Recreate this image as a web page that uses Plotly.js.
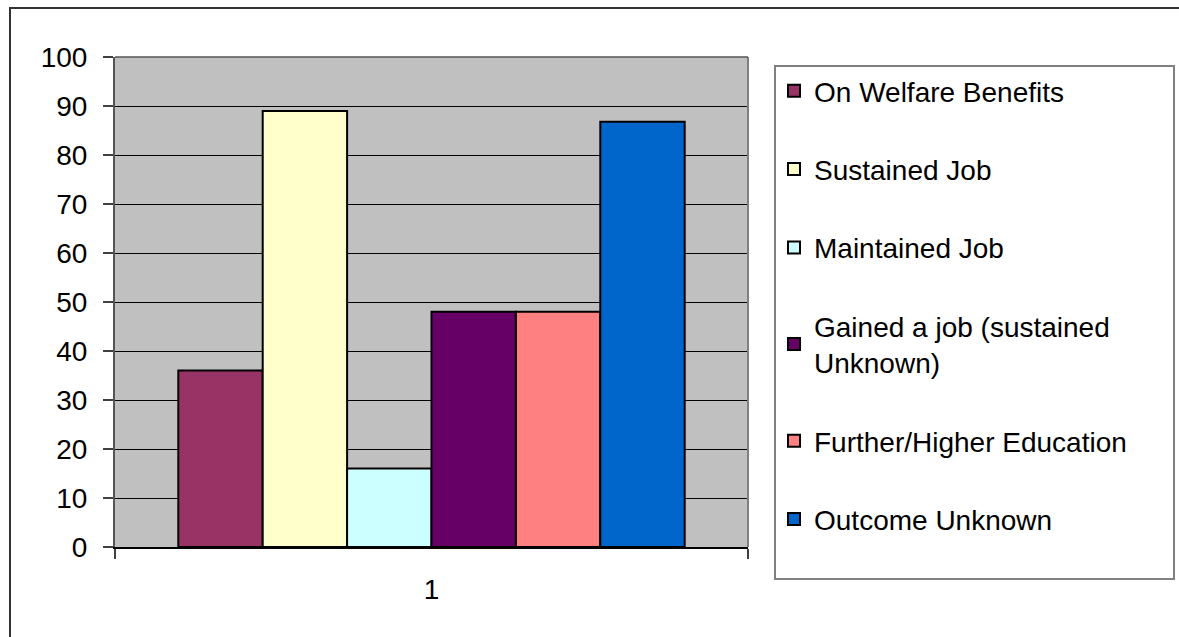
<!DOCTYPE html>
<html>
<head>
<meta charset="utf-8">
<script src="https://cdn.plot.ly/plotly-3.0.1.min.js"></script>
<style>html,body{margin:0;padding:0;background:#fff;}#chart{width:1179px;height:637px;}</style>
</head>
<body>
<div id="chart"></div>
<script>
const categories = ['1'];
const seriesNames = ['On Welfare Benefits', 'Sustained Job', 'Maintained Job', 'Gained a job (sustained<br>Unknown)', 'Further/Higher Education', 'Outcome Unknown'];
const seriesValues = [36, 89, 16, 48, 48, 86.8];
const seriesColors = ['#993366', '#FFFFCC', '#CCFFFF', '#660066', '#FF8080', '#0066CC'];
const yTickVals = [0, 10, 20, 30, 40, 50, 60, 70, 80, 90, 100];

const FONT = '"Liberation Sans", Arial, sans-serif';

const traces = seriesNames.map((name, i) => ({
  type: 'bar',
  name: name,
  x: categories,
  y: [seriesValues[i]],
  legendgroup: 'g' + i,
  marker: { color: seriesColors[i], line: { color: '#000000', width: 2 } },
  hoverinfo: 'name+y'
}));

// plot-area pixel geometry used to express frame shapes in paper units
const L = 115, R = 748, T = 57, B = 547;
const W = R - L, H = B - T;
const px = v => (v - L) / W;
const py = v => (B - v) / H;

const layout = {
  width: 1179,
  height: 637,
  margin: { l: L, r: 1179 - R, t: T, b: 637 - B, pad: 0 },
  paper_bgcolor: '#ffffff',
  plot_bgcolor: '#C0C0C0',
  font: { family: FONT, size: 28, color: '#000000' },
  barmode: 'group',
  bargap: 0.2,
  bargroupgap: 0,
  showlegend: true,
  legend: {
    x: px(774), xanchor: 'left',
    y: py(66), yanchor: 'top',
    bgcolor: 'rgba(0,0,0,0)',
    borderwidth: 0,
    font: { family: FONT, size: 28, color: '#000000' },
    tracegroupgap: 39,
    traceorder: 'grouped',
    itemclick: false
  },
  xaxis: {
    type: 'category',
    tickson: 'boundaries',
    ticks: 'outside',
    ticklen: 10,
    tickwidth: 1.5,
    tickcolor: '#404040',
    ticklabelstandoff: 17,
    showgrid: false,
    showline: true,
    linecolor: '#000000',
    linewidth: 1.5,
    mirror: false,
    tickfont: { family: FONT, size: 28, color: '#000000' },
    fixedrange: true
  },
  yaxis: {
    range: [0, 100],
    tickvals: yTickVals,
    ticks: 'outside',
    ticklen: 10,
    tickwidth: 1.5,
    tickcolor: '#404040',
    ticklabelstandoff: 10,
    showgrid: true,
    gridcolor: '#000000',
    gridwidth: 1,
    showline: true,
    linecolor: '#555555',
    linewidth: 2,
    zeroline: false,
    tickfont: { family: FONT, size: 28, color: '#000000' },
    fixedrange: true
  },
  shapes: [
    { type: 'line', xref: 'paper', yref: 'paper', x0: 1, x1: 1, y0: 0, y1: 1, line: { color: '#808080', width: 2 }, layer: 'above' },
    { type: 'line', xref: 'paper', yref: 'paper', x0: 0, x1: 1, y0: 1, y1: 1, line: { color: '#555555', width: 1.5 }, layer: 'above' },
    { type: 'rect', xref: 'paper', yref: 'paper', x0: px(775), x1: px(1174), y0: py(579), y1: py(66), line: { color: '#808080', width: 2 }, fillcolor: 'rgba(0,0,0,0)', layer: 'below' },
    { type: 'rect', xref: 'paper', yref: 'paper', x0: px(10), x1: px(1200), y0: py(660), y1: py(8), line: { color: '#333333', width: 2 }, fillcolor: 'rgba(0,0,0,0)', layer: 'below' }
  ]
};

Plotly.newPlot('chart', traces, layout, { displayModeBar: false, staticPlot: true });
</script>
</body>
</html>
